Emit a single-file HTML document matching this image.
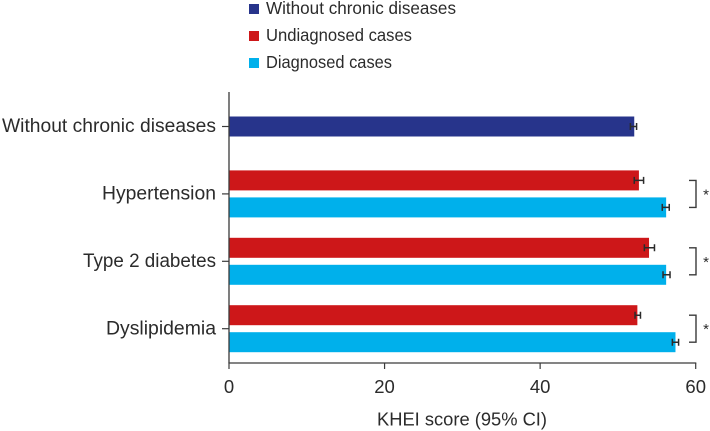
<!DOCTYPE html>
<html>
<head>
<meta charset="utf-8">
<style>
html,body{margin:0;padding:0;background:#fff;}
svg{display:block;}
text{font-family:"Liberation Sans",sans-serif;fill:#2b2b2b;}
</style>
</head>
<body>
<svg id="chart" width="710" height="431" viewBox="0 0 710 431" xmlns="http://www.w3.org/2000/svg">
<g id="legend">
  <rect x="249" y="4" width="10" height="10" fill="#27348b"/>
  <text x="266" y="14" font-size="17.5" textLength="190" lengthAdjust="spacingAndGlyphs">Without chronic diseases</text>
  <rect x="249" y="31" width="10" height="10" fill="#cd1719"/>
  <text x="266" y="41" font-size="17.5" textLength="146" lengthAdjust="spacingAndGlyphs">Undiagnosed cases</text>
  <rect x="249" y="58" width="10" height="10" fill="#00b0eb"/>
  <text x="266" y="68" font-size="17.5" textLength="126" lengthAdjust="spacingAndGlyphs">Diagnosed cases</text>
</g>
<g id="plot"></g>
</svg>
<script>
const categories = ["Without chronic diseases", "Hypertension", "Type 2 diabetes", "Dyslipidemia"];
const categoryLabelWidths = [214, 114, 133, 110];
const undiagnosedValues = [null, 52.7, 54.0, 52.5];
const undiagnosedLow = [null, 52.1, 53.4, 52.2];
const undiagnosedHigh = [null, 53.3, 54.7, 52.9];
const diagnosedValues = [null, 56.2, 56.2, 57.4];
const diagnosedLow = [null, 55.7, 55.8, 57.0];
const diagnosedHigh = [null, 56.6, 56.7, 57.8];
const withoutValues = [52.1, null, null, null];
const withoutLow = [51.6, null, null, null];
const withoutHigh = [52.4, null, null, null];
const xTicks = [0, 20, 40, 60];
const significance = [false, true, true, true];
const axisTitle = "KHEI score (95% CI)";

const NS = "http://www.w3.org/2000/svg";
const plot = document.getElementById("plot");
const xScale = v => 229 + (v / 60) * 466.7;
const yCenter = i => 126.5 + i * 67.4;
const BAR_H = 20;
const COLORS = { without: "#27348b", undiagnosed: "#cd1719", diagnosed: "#00b0eb" };
const INK = "#3a3a3a";

function make(tag, attrs, parent) {
  const el = document.createElementNS(NS, tag);
  for (const k in attrs) el.setAttribute(k, attrs[k]);
  (parent || plot).appendChild(el);
  return el;
}

function drawBar(i, value, low, high, top, color, label) {
  const bar = make("rect", { x: xScale(0), y: top, width: xScale(value) - xScale(0), height: BAR_H, fill: color });
  
  
  const mid = top + BAR_H / 2;
  const err = make("path", {
    d: "M" + xScale(low) + " " + (mid - 3.5) + "V" + (mid + 3.5) +
       "M" + xScale(low) + " " + mid + "H" + xScale(high) +
       "M" + xScale(high) + " " + (mid - 3.5) + "V" + (mid + 3.5),
    stroke: "#2b2b2b", "stroke-width": 1.5, fill: "none"
  });
  
  
}

categories.forEach((name, i) => {
  const cy = yCenter(i);
  if (withoutValues[i] !== null) {
    drawBar(i, withoutValues[i], withoutLow[i], withoutHigh[i], cy - BAR_H / 2, COLORS.without, "without");
  }
  if (undiagnosedValues[i] !== null) {
    drawBar(i, undiagnosedValues[i], undiagnosedLow[i], undiagnosedHigh[i], cy - 23.5, COLORS.undiagnosed, "undiagnosed");
  }
  if (diagnosedValues[i] !== null) {
    drawBar(i, diagnosedValues[i], diagnosedLow[i], diagnosedHigh[i], cy + 3.5, COLORS.diagnosed, "diagnosed");
  }
  const tick = make("line", { x1: 222, x2: 229, y1: cy, y2: cy, stroke: INK, "stroke-width": 1.2 });
  
  
  const label = make("text", { x: 216, y: cy + 5.7, "text-anchor": "end", "font-size": 19, textLength: categoryLabelWidths[i], lengthAdjust: "spacingAndGlyphs" });
  label.textContent = name;
  
  
  if (significance[i]) {
    const bracket = make("path", {
      d: "M689 " + (cy - 13.5) + "H696V" + (cy + 13.5) + "H689",
      stroke: INK, "stroke-width": 1.4, fill: "none"
    });
    
    
    const star = make("text", { x: 706, y: cy + 5.5, "text-anchor": "middle", "font-size": 15 });
    star.textContent = "*";
    
    
  }
});

const yAxis = make("line", { x1: 229, x2: 229, y1: 92, y2: 363, stroke: INK, "stroke-width": 1.3 });


const xAxis = make("line", { x1: 228.4, x2: xScale(60) + 0.6, y1: 363, y2: 363, stroke: INK, "stroke-width": 1.3 });



xTicks.forEach(t => {
  const x = xScale(t);
  const tick = make("line", { x1: x, x2: x, y1: 363, y2: 369, stroke: INK, "stroke-width": 1.2 });
  
  
  const label = make("text", { x: x, y: 393, "text-anchor": "middle", "font-size": 18.5 });
  label.textContent = t;
  
  
});

const title = make("text", { x: 377, y: 425.5, "font-size": 18, textLength: 170, lengthAdjust: "spacingAndGlyphs" });
title.textContent = axisTitle;


</script>
</body>
</html>
